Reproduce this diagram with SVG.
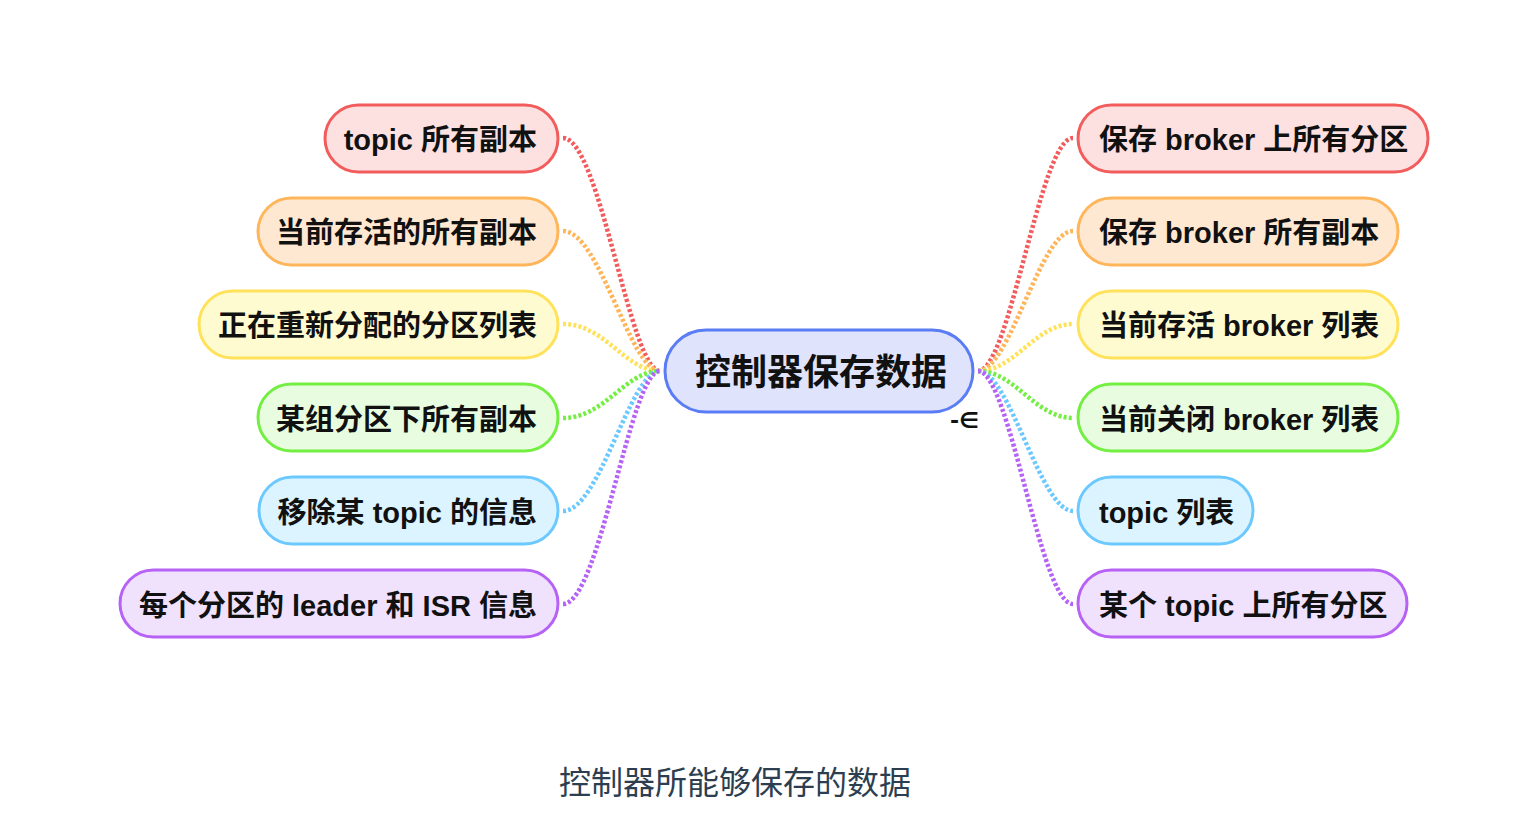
<svg xmlns="http://www.w3.org/2000/svg" width="1532" height="814" viewBox="0 0 1532 814">
<style>
.n rect{stroke-width:3}
.t{font-family:"Liberation Sans","Noto Sans CJK SC",sans-serif;font-weight:bold;font-size:29px;fill:#111}
.tl{text-anchor:end}
.c path{fill:none;stroke-width:4.5;stroke-dasharray:3 2.2}
.red rect{fill:#fde1e1;stroke:#f25c5c}
.org rect{fill:#ffe8d1;stroke:#ffb55a}
.yel rect{fill:#fffbd1;stroke:#ffe25a}
.grn rect{fill:#e8fddf;stroke:#72ef40}
.cyn rect{fill:#dcf4ff;stroke:#6cc9ff}
.pur rect{fill:#f0e1fd;stroke:#b662f5}
</style>
<rect width="1532" height="814" fill="#fff"/>
<g id="connectors" class="c">
<path d="M563 138 C600 138 630 371 660 371" stroke="#f25c5c"/>
<path d="M563 231 C600 231 630 371 660 371" stroke="#ffb55a"/>
<path d="M563 324 C605 324 625 371 660 371" stroke="#ffe25a"/>
<path d="M563 418 C605 418 625 371 660 371" stroke="#72ef40"/>
<path d="M563 511 C600 511 630 371 660 371" stroke="#6cc9ff"/>
<path d="M563 604 C600 604 630 371 660 371" stroke="#b662f5"/>
<path d="M978 371 C1010 371 1040 138 1073 138" stroke="#f25c5c"/>
<path d="M978 371 C1010 371 1040 231 1073 231" stroke="#ffb55a"/>
<path d="M978 371 C1015 371 1035 324 1073 324" stroke="#ffe25a"/>
<path d="M978 371 C1015 371 1035 418 1073 418" stroke="#72ef40"/>
<path d="M978 371 C1010 371 1040 511 1073 511" stroke="#6cc9ff"/>
<path d="M978 371 C1010 371 1040 604 1073 604" stroke="#b662f5"/>
</g>
<g id="center" class="n">
<rect x="665" y="330" width="308" height="82" rx="41" fill="#dfe4fc" stroke="#5a7cf5"/>
<text x="821" y="385" text-anchor="middle" style="font-family:'Noto Sans CJK SC',sans-serif;font-weight:bold;font-size:36px;fill:#111">控制器保存数据</text>
</g>
<text x="950" y="428" style="font-family:'DejaVu Sans',sans-serif;font-weight:bold;font-size:22px;fill:#111">-∈</text>
<g id="l1" class="n red"><rect x="325" y="105" width="233" height="67" rx="33.5"/><text class="t tl" x="537" y="150">topic 所有副本</text></g>
<g id="l2" class="n org"><rect x="258" y="198" width="300" height="67" rx="33.5"/><text class="t tl" x="537" y="243">当前存活的所有副本</text></g>
<g id="l3" class="n yel"><rect x="199" y="291" width="359" height="67" rx="33.5"/><text class="t tl" x="537" y="336">正在重新分配的分区列表</text></g>
<g id="l4" class="n grn"><rect x="258" y="384" width="300" height="67" rx="33.5"/><text class="t tl" x="537" y="430">某组分区下所有副本</text></g>
<g id="l5" class="n cyn"><rect x="259" y="477" width="299" height="67" rx="33.5"/><text class="t tl" x="537" y="523">移除某 topic 的信息</text></g>
<g id="l6" class="n pur"><rect x="120" y="570" width="438" height="67" rx="33.5"/><text class="t tl" x="537" y="616">每个分区的 leader 和 ISR 信息</text></g>
<g id="r1" class="n red"><rect x="1078" y="105" width="350" height="67" rx="33.5"/><text class="t" x="1099" y="150">保存 broker 上所有分区</text></g>
<g id="r2" class="n org"><rect x="1078" y="198" width="320" height="67" rx="33.5"/><text class="t" x="1099" y="243">保存 broker 所有副本</text></g>
<g id="r3" class="n yel"><rect x="1078" y="291" width="320" height="67" rx="33.5"/><text class="t" x="1099" y="336">当前存活 broker 列表</text></g>
<g id="r4" class="n grn"><rect x="1078" y="384" width="320" height="67" rx="33.5"/><text class="t" x="1099" y="430">当前关闭 broker 列表</text></g>
<g id="r5" class="n cyn"><rect x="1078" y="477" width="175" height="67" rx="33.5"/><text class="t" x="1099" y="523">topic 列表</text></g>
<g id="r6" class="n pur"><rect x="1078" y="570" width="329" height="67" rx="33.5"/><text class="t" x="1099" y="616">某个 topic 上所有分区</text></g>
<text x="735" y="794" text-anchor="middle" style="font-family:'Noto Sans CJK SC',sans-serif;font-size:32px;fill:#2c3e50">控制器所能够保存的数据</text>
</svg>
